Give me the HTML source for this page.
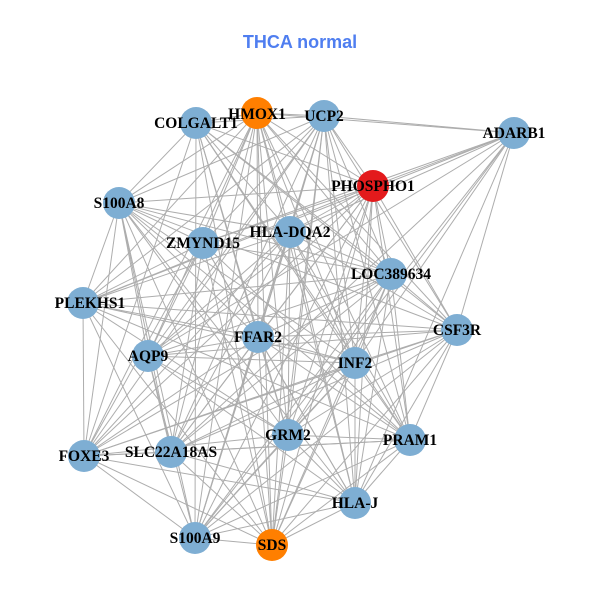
<!DOCTYPE html>
<html><head><meta charset="utf-8"><style>
html,body{margin:0;padding:0;background:#fff;}
svg{display:block}
</style></head><body>
<svg id="g" width="600" height="600" xmlns="http://www.w3.org/2000/svg">
<rect width="600" height="600" fill="#fff"/>
<text x="300" y="48" text-anchor="middle" font-family="Liberation Sans, sans-serif" font-weight="bold" font-size="18" fill="#4f7ef0">THCA normal</text>
<g id="edges" stroke="#adadad" stroke-width="1"></g>
<g id="nodes"></g>
<g id="labels" font-family="Liberation Serif, serif" font-weight="bold" font-size="15.5" fill="#000" text-anchor="middle">
<text x="196" y="128">COLGALT1</text>
<text x="257" y="119">HMOX1</text>
<text x="324" y="121">UCP2</text>
<text x="514" y="138">ADARB1</text>
<text x="373" y="191">PHOSPHO1</text>
<text x="119" y="208">S100A8</text>
<text x="203" y="248">ZMYND15</text>
<text x="290" y="237">HLA-DQA2</text>
<text x="391" y="279">LOC389634</text>
<text x="90" y="308">PLEKHS1</text>
<text x="457" y="335">CSF3R</text>
<text x="258" y="342">FFAR2</text>
<text x="148" y="361">AQP9</text>
<text x="355" y="368">INF2</text>
<text x="84" y="461">FOXE3</text>
<text x="171" y="457">SLC22A18AS</text>
<text x="288" y="440">GRM2</text>
<text x="410" y="445">PRAM1</text>
<text x="355" y="508">HLA-J</text>
<text x="195" y="543">S100A9</text>
<text x="272" y="550">SDS</text>
</g>
</svg>
<script>
var N=[[196,123,'b'],[257,113,'o'],[324,116,'b'],[514,133,'b'],[373,186,'r'],[119,203,'b'],[203,243,'b'],[290,232,'b'],[391,274,'b'],[83,303,'b'],[457,330,'b'],[258,337,'b'],[148,356,'b'],[355,363,'b'],[84,456,'b'],[171,452,'b'],[288,435,'b'],[410,440,'b'],[355,503,'b'],[195,538,'b'],[272,545,'o']];
var C={b:'#7eaed3',o:'#ff7f00',r:'#e31a1c'};
var ns='http://www.w3.org/2000/svg',E=document.getElementById('edges'),G=document.getElementById('nodes');
for(var i=0;i<N.length;i++)for(var j=i+1;j<N.length;j++){
 if((i*7+j*3)%9==0)continue;
 var l=document.createElementNS(ns,'line');
 l.setAttribute('x1',N[i][0]);l.setAttribute('y1',N[i][1]);l.setAttribute('x2',N[j][0]);l.setAttribute('y2',N[j][1]);E.appendChild(l);}
N.forEach(function(n){var c=document.createElementNS(ns,'circle');c.setAttribute('cx',n[0]);c.setAttribute('cy',n[1]);c.setAttribute('r',16);c.setAttribute('fill',C[n[2]]);G.appendChild(c);});
</script>
</body></html>
